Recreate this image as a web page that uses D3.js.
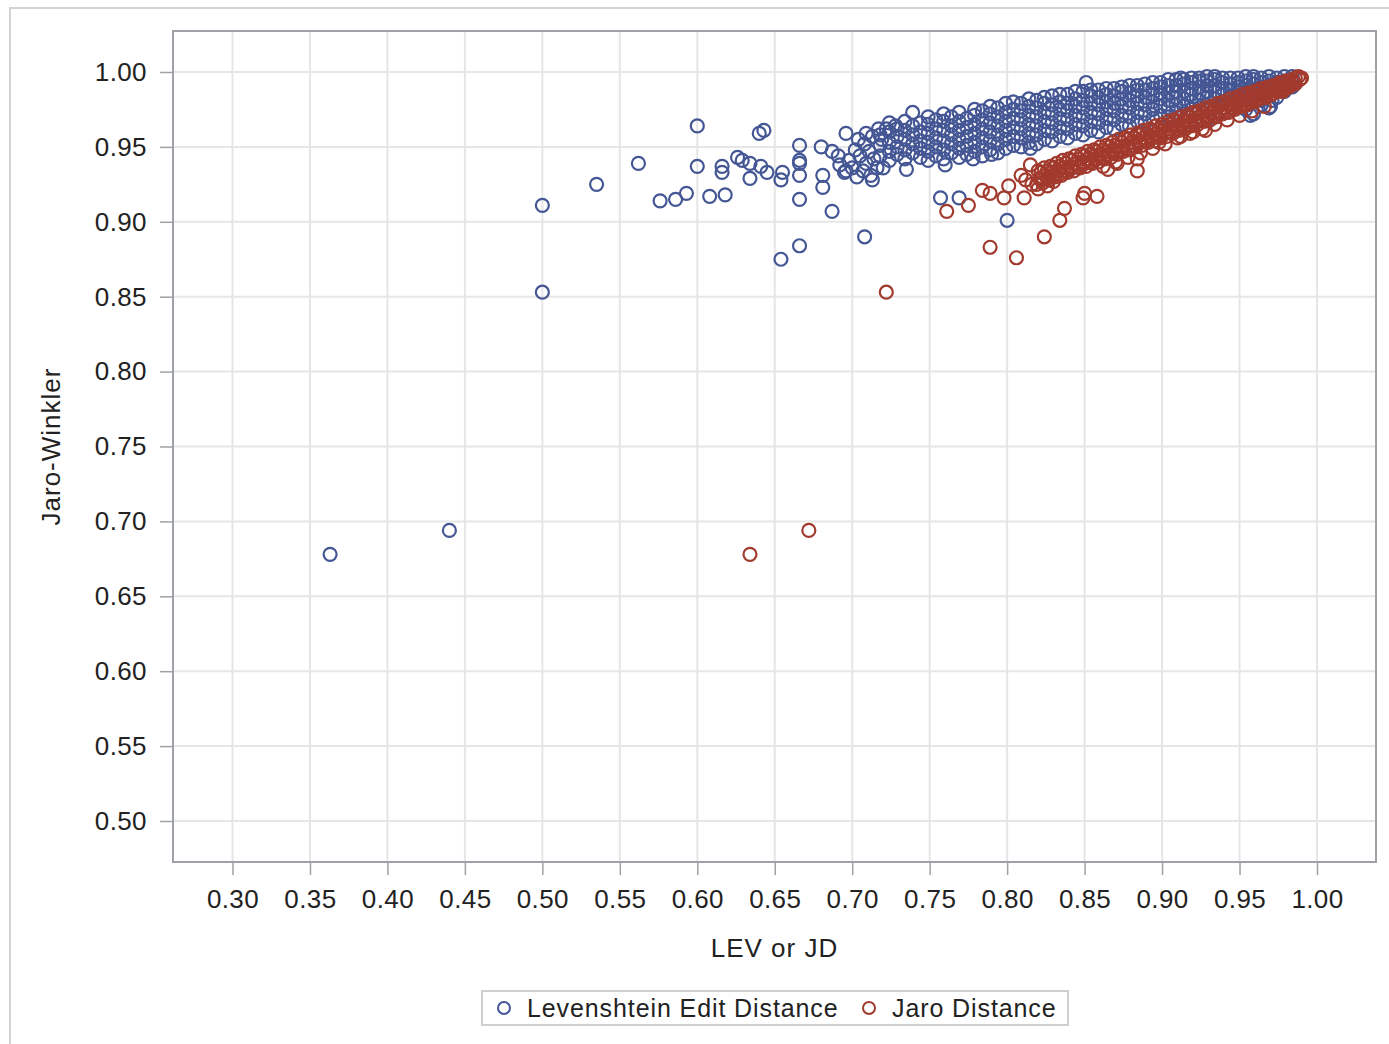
<!DOCTYPE html>
<html>
<head>
<meta charset="utf-8">
<script src="https://cdn.jsdelivr.net/npm/d3@7"></script>
<style>
  body { margin: 0; background: #fff; }
  text { font-family: "Liberation Sans", Arial, sans-serif; fill: #222; }
  .tick line { stroke: #9ea2a6; stroke-width: 1.5; }
  .grid line { stroke: #e6e6e6; stroke-width: 2; }
</style>
</head>
<body>
<div id="chart"></div>
<script>
'use strict';

// axis ticks
var xTicks = [0.30, 0.35, 0.40, 0.45, 0.50, 0.55, 0.60, 0.65, 0.70, 0.75, 0.80, 0.85, 0.90, 0.95, 1.00];
var yTicks = [0.50, 0.55, 0.60, 0.65, 0.70, 0.75, 0.80, 0.85, 0.90, 0.95, 1.00];

var seriesNames = ["Levenshtein Edit Distance", "Jaro Distance"];
var seriesColors = ["#445694", "#a23a2e"];

// Levenshtein edit distance vs Jaro-Winkler
var levPoints = [
  [0.363,0.678],[0.440,0.694],[0.500,0.853],[0.500,0.911],[0.535,0.925],[0.562,0.939],
  [0.600,0.964],[0.600,0.937],[0.576,0.914],[0.586,0.915],[0.593,0.919],[0.608,0.917],
  [0.618,0.918],[0.616,0.937],[0.616,0.933],[0.626,0.943],[0.629,0.941],[0.634,0.939],
  [0.634,0.929],[0.640,0.959],[0.643,0.961],[0.641,0.937],[0.645,0.933],[0.654,0.928],
  [0.655,0.933],[0.654,0.875],[0.666,0.951],[0.666,0.941],[0.666,0.939],[0.666,0.931],
  [0.666,0.915],[0.666,0.884],[0.680,0.950],[0.681,0.931],[0.681,0.923],[0.687,0.907],
  [0.687,0.947],[0.691,0.944],[0.696,0.959],[0.696,0.934],[0.708,0.890],[0.713,0.928],
  [0.757,0.916],[0.769,0.916],[0.800,0.901],
  [0.692,0.938],[0.695,0.933],[0.698,0.941],[0.700,0.936],[0.703,0.930],[0.705,0.944],
  [0.707,0.934],[0.709,0.939],[0.711,0.947],[0.712,0.931],[0.714,0.942],[0.716,0.936],
  [0.702,0.948],[0.708,0.952],[0.713,0.957],[0.719,0.955],[0.722,0.962],[0.728,0.964],
  [0.709,0.959],[0.704,0.955],[0.717,0.962],[0.720,0.936],[0.735,0.935],[0.760,0.938],
  [0.778,0.942],[0.790,0.945],[0.815,0.949],[0.739,0.973],
  [0.718,0.944],[0.718,0.951],[0.718,0.958],
  [0.724,0.941],[0.724,0.947],[0.724,0.953],[0.724,0.960],[0.724,0.966],
  [0.729,0.945],[0.729,0.950],[0.729,0.957],[0.729,0.962],
  [0.734,0.942],[0.734,0.948],[0.734,0.955],[0.734,0.961],[0.734,0.967],
  [0.739,0.946],[0.739,0.952],[0.739,0.958],[0.739,0.964],
  [0.744,0.943],[0.744,0.949],[0.744,0.954],[0.744,0.960],[0.744,0.966],
  [0.749,0.941],[0.749,0.947],[0.749,0.953],[0.749,0.959],[0.749,0.965],[0.749,0.970],
  [0.754,0.944],[0.754,0.950],[0.754,0.956],[0.754,0.962],[0.754,0.968],
  [0.759,0.942],[0.759,0.948],[0.759,0.954],[0.759,0.961],[0.759,0.967],[0.759,0.972],
  [0.764,0.946],[0.764,0.952],[0.764,0.958],[0.764,0.964],[0.764,0.970],
  [0.769,0.943],[0.769,0.949],[0.769,0.955],[0.769,0.961],[0.769,0.967],[0.769,0.973],
  [0.774,0.945],[0.774,0.951],[0.774,0.957],[0.774,0.963],[0.774,0.969],
  [0.779,0.947],[0.779,0.953],[0.779,0.959],[0.779,0.965],[0.779,0.971],[0.779,0.975],
  [0.784,0.944],[0.784,0.950],[0.784,0.956],[0.784,0.962],[0.784,0.968],[0.784,0.974],
  [0.789,0.948],[0.789,0.954],[0.789,0.960],[0.789,0.966],[0.789,0.972],[0.789,0.977],
  [0.794,0.946],[0.794,0.952],[0.794,0.958],[0.794,0.964],[0.794,0.970],[0.794,0.976],
  [0.799,0.949],[0.799,0.955],[0.799,0.961],[0.799,0.967],[0.799,0.973],[0.799,0.979],
  [0.804,0.951],[0.804,0.957],[0.804,0.963],[0.804,0.969],[0.804,0.975],[0.804,0.980],
  [0.809,0.950],[0.809,0.956],[0.809,0.962],[0.809,0.968],[0.809,0.974],[0.809,0.979],
  [0.814,0.953],[0.814,0.959],[0.814,0.965],[0.814,0.971],[0.814,0.977],[0.814,0.982],
  [0.819,0.952],[0.819,0.958],[0.819,0.964],[0.819,0.970],[0.819,0.976],[0.819,0.981],
  [0.824,0.955],[0.824,0.961],[0.824,0.967],[0.824,0.973],[0.824,0.979],[0.824,0.983],
  [0.829,0.954],[0.829,0.960],[0.829,0.966],[0.829,0.972],[0.829,0.978],[0.829,0.984],
  [0.834,0.957],[0.834,0.963],[0.834,0.969],[0.834,0.975],[0.834,0.980],[0.834,0.985],
  [0.839,0.956],[0.839,0.962],[0.839,0.968],[0.839,0.974],[0.839,0.979],[0.839,0.985],
  [0.844,0.959],[0.844,0.965],[0.844,0.971],[0.844,0.977],[0.844,0.982],[0.844,0.987],
  [0.849,0.958],[0.849,0.964],[0.849,0.970],[0.849,0.976],[0.849,0.981],[0.849,0.987],
  [0.851,0.993],
  [0.854,0.961],[0.854,0.967],[0.854,0.973],[0.854,0.979],[0.854,0.984],[0.854,0.988],
  [0.859,0.960],[0.859,0.966],[0.859,0.972],[0.859,0.978],[0.859,0.983],[0.859,0.988],
  [0.864,0.963],[0.864,0.969],[0.864,0.975],[0.864,0.980],[0.864,0.985],[0.864,0.989],
  [0.869,0.962],[0.869,0.968],[0.869,0.974],[0.869,0.979],[0.869,0.984],[0.869,0.989],
  [0.874,0.965],[0.874,0.971],[0.874,0.977],[0.874,0.982],[0.874,0.987],[0.874,0.990],
  [0.879,0.964],[0.879,0.970],[0.879,0.976],[0.879,0.981],[0.879,0.986],[0.879,0.991],
  [0.884,0.967],[0.884,0.973],[0.884,0.979],[0.884,0.984],[0.884,0.988],[0.884,0.991],
  [0.889,0.966],[0.889,0.972],[0.889,0.978],[0.889,0.983],[0.889,0.988],[0.889,0.992],
  [0.894,0.969],[0.894,0.975],[0.894,0.980],[0.894,0.985],[0.894,0.989],[0.894,0.993],
  [0.899,0.971],[0.899,0.977],[0.899,0.982],[0.899,0.986],[0.899,0.990],[0.899,0.993],
  [0.904,0.970],[0.904,0.976],[0.904,0.981],[0.904,0.986],[0.904,0.991],[0.904,0.995],
  [0.909,0.973],[0.909,0.978],[0.909,0.983],[0.909,0.987],[0.909,0.991],[0.909,0.995],
  [0.912,0.996],
  [0.914,0.972],[0.914,0.977],[0.914,0.982],[0.914,0.987],[0.914,0.992],[0.914,0.995],
  [0.919,0.975],[0.919,0.980],[0.919,0.985],[0.919,0.989],[0.919,0.993],[0.919,0.996],
  [0.924,0.976],[0.924,0.981],[0.924,0.986],[0.924,0.990],[0.924,0.994],[0.924,0.996],
  [0.929,0.968],[0.929,0.978],[0.929,0.983],[0.929,0.987],[0.929,0.991],[0.929,0.994],[0.929,0.997],
  [0.934,0.977],[0.934,0.982],[0.934,0.987],[0.934,0.991],[0.934,0.995],[0.934,0.997],
  [0.939,0.980],[0.939,0.985],[0.939,0.989],[0.939,0.993],[0.939,0.996],
  [0.944,0.979],[0.944,0.984],[0.944,0.988],[0.944,0.992],[0.944,0.996],
  [0.949,0.981],[0.949,0.986],[0.949,0.990],[0.949,0.993],[0.949,0.996],
  [0.954,0.975],[0.954,0.983],[0.954,0.987],[0.954,0.991],[0.954,0.994],[0.954,0.997],
  [0.957,0.971],[0.959,0.972],[0.959,0.982],[0.959,0.988],[0.959,0.992],[0.959,0.995],[0.959,0.997],
  [0.964,0.978],[0.964,0.981],[0.964,0.985],[0.964,0.990],[0.964,0.993],[0.964,0.996],
  [0.969,0.976],[0.970,0.977],[0.971,0.981],[0.969,0.987],[0.969,0.991],[0.969,0.994],[0.969,0.997],
  [0.974,0.983],[0.974,0.989],[0.974,0.993],[0.974,0.996],
  [0.979,0.987],[0.979,0.991],[0.979,0.994],[0.979,0.997],
  [0.984,0.990],[0.984,0.994],[0.984,0.997]
];

// Jaro distance vs Jaro-Winkler
var jaroPoints = [
  [0.634,0.678],[0.672,0.694],[0.722,0.853],[0.761,0.907],[0.775,0.911],[0.784,0.921],
  [0.789,0.919],[0.789,0.883],[0.798,0.916],[0.801,0.924],[0.806,0.876],[0.811,0.916],
  [0.809,0.931],[0.815,0.938],[0.824,0.890],[0.834,0.901],[0.837,0.909],[0.849,0.916],
  [0.850,0.919],[0.858,0.917],[0.865,0.935],[0.871,0.939],[0.884,0.942],[0.884,0.934],
  [0.898,0.953],[0.912,0.957],[0.920,0.960],[0.928,0.961],[0.978,0.987],
  [0.812,0.928],[0.816,0.925],[0.820,0.922],[0.826,0.924],[0.830,0.927],
  [0.862,0.937],[0.870,0.940],[0.878,0.943],[0.886,0.946],[0.894,0.949],[0.902,0.952],
  [0.910,0.956],[0.918,0.959],[0.926,0.962],[0.934,0.965],[0.942,0.968],[0.950,0.971],
  [0.958,0.974],[0.966,0.977],
  [0.820,0.934],[0.821,0.929],[0.819,0.925],
  [0.822,0.933],[0.822,0.928],
  [0.824,0.936],[0.825,0.931],[0.823,0.926],
  [0.826,0.934],[0.826,0.929],
  [0.828,0.937],[0.829,0.933],[0.827,0.928],
  [0.830,0.936],[0.830,0.931],
  [0.832,0.939],[0.833,0.934],[0.831,0.930],
  [0.834,0.937],[0.834,0.932],
  [0.836,0.941],[0.837,0.936],[0.835,0.931],
  [0.838,0.939],[0.838,0.934],
  [0.840,0.942],[0.841,0.937],[0.839,0.933],
  [0.842,0.941],[0.842,0.936],
  [0.844,0.944],[0.845,0.939],[0.843,0.934],
  [0.846,0.942],[0.846,0.937],
  [0.848,0.945],[0.849,0.940],[0.847,0.936],
  [0.850,0.944],[0.850,0.939],
  [0.852,0.947],[0.853,0.942],[0.851,0.937],
  [0.854,0.945],[0.854,0.940],
  [0.856,0.948],[0.857,0.944],[0.855,0.939],
  [0.858,0.947],[0.858,0.942],
  [0.860,0.950],[0.861,0.945],[0.859,0.940],
  [0.862,0.948],[0.862,0.943],
  [0.864,0.951],[0.865,0.947],[0.863,0.942],
  [0.866,0.950],[0.866,0.945],
  [0.868,0.953],[0.869,0.948],[0.867,0.943],
  [0.870,0.951],[0.870,0.946],
  [0.872,0.955],[0.873,0.950],[0.871,0.945],
  [0.874,0.953],[0.874,0.948],
  [0.876,0.956],[0.877,0.951],[0.875,0.947],
  [0.878,0.955],[0.878,0.949],
  [0.880,0.958],[0.881,0.953],[0.879,0.948],
  [0.882,0.956],[0.882,0.951],
  [0.884,0.959],[0.885,0.954],[0.883,0.950],
  [0.886,0.958],[0.886,0.953],
  [0.888,0.961],[0.889,0.956],[0.887,0.951],
  [0.890,0.959],[0.890,0.954],
  [0.892,0.962],[0.893,0.957],[0.891,0.953],
  [0.894,0.961],[0.894,0.956],
  [0.896,0.964],[0.897,0.959],[0.895,0.954],
  [0.898,0.962],[0.898,0.957],
  [0.900,0.965],[0.901,0.961],[0.899,0.956],
  [0.902,0.964],[0.902,0.959],
  [0.904,0.967],[0.905,0.962],[0.903,0.957],
  [0.906,0.965],[0.906,0.960],
  [0.908,0.968],[0.909,0.964],[0.907,0.959],
  [0.910,0.967],[0.910,0.962],
  [0.912,0.970],[0.913,0.965],[0.911,0.961],
  [0.914,0.968],[0.914,0.963],
  [0.916,0.971],[0.917,0.967],[0.915,0.962],
  [0.918,0.970],[0.918,0.965],
  [0.920,0.973],[0.921,0.968],[0.919,0.964],
  [0.922,0.972],[0.922,0.967],
  [0.924,0.974],[0.925,0.970],[0.923,0.965],
  [0.926,0.973],[0.926,0.968],
  [0.928,0.976],[0.929,0.971],[0.927,0.967],
  [0.930,0.975],[0.930,0.970],
  [0.932,0.977],[0.933,0.973],[0.931,0.968],
  [0.934,0.976],[0.934,0.971],
  [0.936,0.979],[0.937,0.974],[0.935,0.970],
  [0.938,0.978],[0.938,0.973],
  [0.940,0.980],[0.941,0.976],[0.939,0.972],
  [0.942,0.979],[0.942,0.974],
  [0.944,0.982],[0.945,0.978],[0.943,0.973],
  [0.946,0.981],[0.946,0.976],
  [0.948,0.983],[0.949,0.979],[0.947,0.975],
  [0.950,0.982],[0.950,0.977],
  [0.952,0.985],[0.953,0.981],[0.951,0.977],
  [0.954,0.984],[0.954,0.979],
  [0.956,0.986],[0.957,0.982],[0.955,0.978],
  [0.958,0.985],[0.958,0.981],
  [0.960,0.987],[0.961,0.984],[0.959,0.980],
  [0.962,0.987],[0.962,0.982],
  [0.964,0.989],[0.965,0.985],[0.963,0.982],
  [0.966,0.988],[0.966,0.984],
  [0.968,0.990],[0.969,0.987],[0.967,0.983],
  [0.970,0.990],[0.970,0.985],
  [0.972,0.991],[0.973,0.988],[0.971,0.985],
  [0.974,0.991],[0.974,0.987],
  [0.976,0.993],[0.977,0.990],[0.975,0.987],
  [0.978,0.993],[0.978,0.988],
  [0.980,0.994],[0.981,0.991],[0.979,0.989],
  [0.982,0.994],[0.982,0.990],
  [0.984,0.995],[0.985,0.993],[0.983,0.991],
  [0.986,0.996],[0.986,0.992],
  [0.988,0.997],[0.989,0.995],[0.990,0.996]
];

var width = 1389, height = 1044;
var frame = {left: 173, top: 31, right: 1376, bottom: 862};
var radius = 6.5;

var svg = d3.select("#chart").append("svg")
    .attr("width", width)
    .attr("height", height);

// outer border
svg.append("path")
    .attr("d", "M10,1044 V8 H1389")
    .attr("fill", "none")
    .attr("stroke", "#d4d4d4")
    .attr("stroke-width", 2);

var x = d3.scaleLinear().domain([0.30, 1.00]).range([232.5, 1317]);
var y = d3.scaleLinear().domain([0.50, 1.00]).range([821, 72]);

// grid
svg.append("g").attr("class", "grid")
    .selectAll("line")
    .data(xTicks)
    .enter().append("line")
    .attr("x1", function(d) { return x(d); })
    .attr("x2", function(d) { return x(d); })
    .attr("y1", frame.top)
    .attr("y2", frame.bottom);

svg.append("g").attr("class", "grid")
    .selectAll("line")
    .data(yTicks)
    .enter().append("line")
    .attr("x1", frame.left)
    .attr("x2", frame.right)
    .attr("y1", function(d) { return y(d); })
    .attr("y2", function(d) { return y(d); });

// axes
var xAxis = d3.axisBottom(x).tickValues(xTicks).tickFormat(d3.format(".2f")).tickSize(13);
var yAxis = d3.axisLeft(y).tickValues(yTicks).tickFormat(d3.format(".2f")).tickSize(13);

var gx = svg.append("g")
    .attr("transform", "translate(0," + frame.bottom + ")")
    .call(xAxis);
gx.select(".domain").remove();
gx.selectAll("text")
    .attr("y", 28)
    .style("font-size", "26px")
    .style("letter-spacing", "0.4px")
    .style("font-family", "'Liberation Sans', Arial, sans-serif")
    .attr("fill", "#222");

var gy = svg.append("g")
    .attr("transform", "translate(" + frame.left + ",0)")
    .call(yAxis);
gy.select(".domain").remove();
gy.selectAll("text")
    .attr("x", -26)
    .style("font-size", "26px")
    .style("letter-spacing", "0.4px")
    .style("font-family", "'Liberation Sans', Arial, sans-serif")
    .attr("fill", "#222");

// frame
svg.append("rect")
    .attr("x", frame.left)
    .attr("y", frame.top)
    .attr("width", frame.right - frame.left)
    .attr("height", frame.bottom - frame.top)
    .attr("fill", "none")
    .attr("stroke", "#9ea2a6")
    .attr("stroke-width", 2);

// points
[levPoints, jaroPoints].forEach(function(pts, i) {
    svg.append("g")
        .selectAll("circle")
        .data(pts)
        .enter().append("circle")
        .attr("cx", function(d) { return x(d[0]); })
        .attr("cy", function(d) { return y(d[1]); })
        .attr("r", radius)
        .attr("fill", "none")
        .attr("stroke", seriesColors[i])
        .attr("stroke-width", 2.2);
});

// axis titles
svg.append("text")
    .attr("x", (frame.left + frame.right) / 2)
    .attr("y", 957)
    .attr("text-anchor", "middle")
    .style("font-size", "26px")
    .style("letter-spacing", "1px")
    .text("LEV or JD");

svg.append("text")
    .attr("transform", "translate(60," + (frame.top + frame.bottom) / 2 + ") rotate(-90)")
    .attr("text-anchor", "middle")
    .style("font-size", "26px")
    .style("letter-spacing", "1px")
    .text("Jaro-Winkler");

// legend
var legend = svg.append("g");
legend.append("rect")
    .attr("x", 482)
    .attr("y", 991)
    .attr("width", 586)
    .attr("height", 34)
    .attr("fill", "#fff")
    .attr("stroke", "#cfcfcf")
    .attr("stroke-width", 2);

var legendX = [504, 869];
seriesNames.forEach(function(name, i) {
    legend.append("circle")
        .attr("cx", legendX[i])
        .attr("cy", 1008)
        .attr("r", 6)
        .attr("fill", "none")
        .attr("stroke", seriesColors[i])
        .attr("stroke-width", 2);
    legend.append("text")
        .attr("x", legendX[i] + 23)
        .attr("y", 1017)
        .style("font-size", "25px")
        .style("letter-spacing", "0.9px")
        .text(name);
});
</script>
</body>
</html>
